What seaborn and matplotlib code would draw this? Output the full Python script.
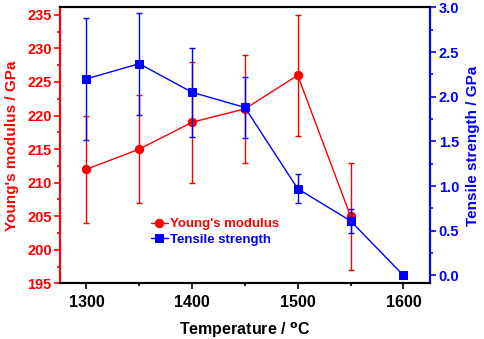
import numpy as np
import pandas as pd
import seaborn as sns
import matplotlib.pyplot as plt
from matplotlib.ticker import MultipleLocator

# data
temperature = [1300, 1350, 1400, 1450, 1500, 1550, 1600]
youngs = [212, 215, 219, 221, 226, 205]
youngs_err = [8, 8, 9, 8, 9, 8]
tensile = [2.20, 2.37, 2.05, 1.88, 0.97, 0.61, 0.0]
tensile_err = [0.68, 0.57, 0.50, 0.34, 0.165, 0.13, 0.0]

sns.set_style("ticks")
plt.rcParams['font.family'] = ['Liberation Sans', 'DejaVu Sans']
plt.rcParams['font.weight'] = 'bold'
plt.rcParams['mathtext.default'] = 'bf'

df_y = pd.DataFrame({'T': temperature[:6], 'E': youngs})
df_t = pd.DataFrame({'T': temperature, 'S': tensile})

fig = plt.figure(figsize=(4.84, 3.39), dpi=100)
ax = fig.add_axes([0.124, 0.164, 0.764, 0.814])
ax2 = ax.twinx()

red = '#ff0000'
blue = '#0000ff'

ax.errorbar(temperature[:6], youngs, yerr=youngs_err, fmt='none', ecolor=red,
            elinewidth=1, capsize=2.5, capthick=1)
sns.lineplot(data=df_y, x='T', y='E', ax=ax, color=red, marker='o', markersize=6,
             markeredgecolor=red, linewidth=1, label="Young's modulus", legend=False)

ax2.errorbar(temperature, tensile, yerr=tensile_err, fmt='none', ecolor=blue,
             elinewidth=1, capsize=2.5, capthick=1)
sns.lineplot(data=df_t, x='T', y='S', ax=ax2, color=blue, marker='s', markersize=5.5,
             markeredgecolor=blue, linewidth=1, label='Tensile strength', legend=False)

ax.set_xlim(1275, 1625)
ax.set_ylim(195, 236.1)
ax2.set_ylim(-0.09, 3.0)

ax.xaxis.set_major_locator(MultipleLocator(100))
ax.xaxis.set_minor_locator(MultipleLocator(50))
ax.yaxis.set_major_locator(MultipleLocator(5))
ax.yaxis.set_minor_locator(MultipleLocator(2.5))
ax2.yaxis.set_major_locator(MultipleLocator(0.5))
ax2.yaxis.set_minor_locator(MultipleLocator(0.25))

ax.set_xlabel('Temperature / $^{o}$C', fontsize=11.5, fontweight='bold', labelpad=7, color='black')
ax.set_ylabel("Young's modulus / GPa", fontsize=11, fontweight='bold', color=red, labelpad=6)
ax2.set_ylabel('Tensile strength / GPa', fontsize=11, fontweight='bold', color=blue, labelpad=4.5)

for a in (ax, ax2):
    for s in a.spines.values():
        s.set_linewidth(1.5)
ax2.spines['left'].set_color(red)
ax2.spines['right'].set_color(blue)
ax2.spines['top'].set_color('black')
ax2.spines['bottom'].set_color('black')

ax.tick_params(axis='x', which='major', length=4, width=1.2, labelsize=11.5, pad=4.5, colors='black')
ax.tick_params(axis='x', which='minor', length=2.5, width=1.2, colors='black')
ax.tick_params(axis='y', which='major', length=4.5, width=1.2, labelsize=10.5, pad=1.5, colors=red)
ax.tick_params(axis='y', which='minor', length=2.5, width=1.2, colors=red)
ax2.tick_params(axis='y', which='major', length=4.5, width=1.2, labelsize=10.5, pad=2, colors=blue)
ax2.tick_params(axis='y', which='minor', length=2.5, width=1.2, colors=blue)
for lbl in ax.get_xticklabels() + ax.get_yticklabels() + ax2.get_yticklabels():
    lbl.set_fontweight('bold')

h1, l1 = ax.get_legend_handles_labels()
h2, l2 = ax2.get_legend_handles_labels()
ax2.legend(h1 + h2, l1 + l2, loc='upper left', bbox_to_anchor=(0.22, 0.27),
           frameon=False, labelcolor='linecolor', handlelength=1.3, handletextpad=0.2,
           labelspacing=0.25, borderpad=0.2, prop={'weight': 'bold', 'size': 9.5})

fig.savefig('out.png', dpi=100)
